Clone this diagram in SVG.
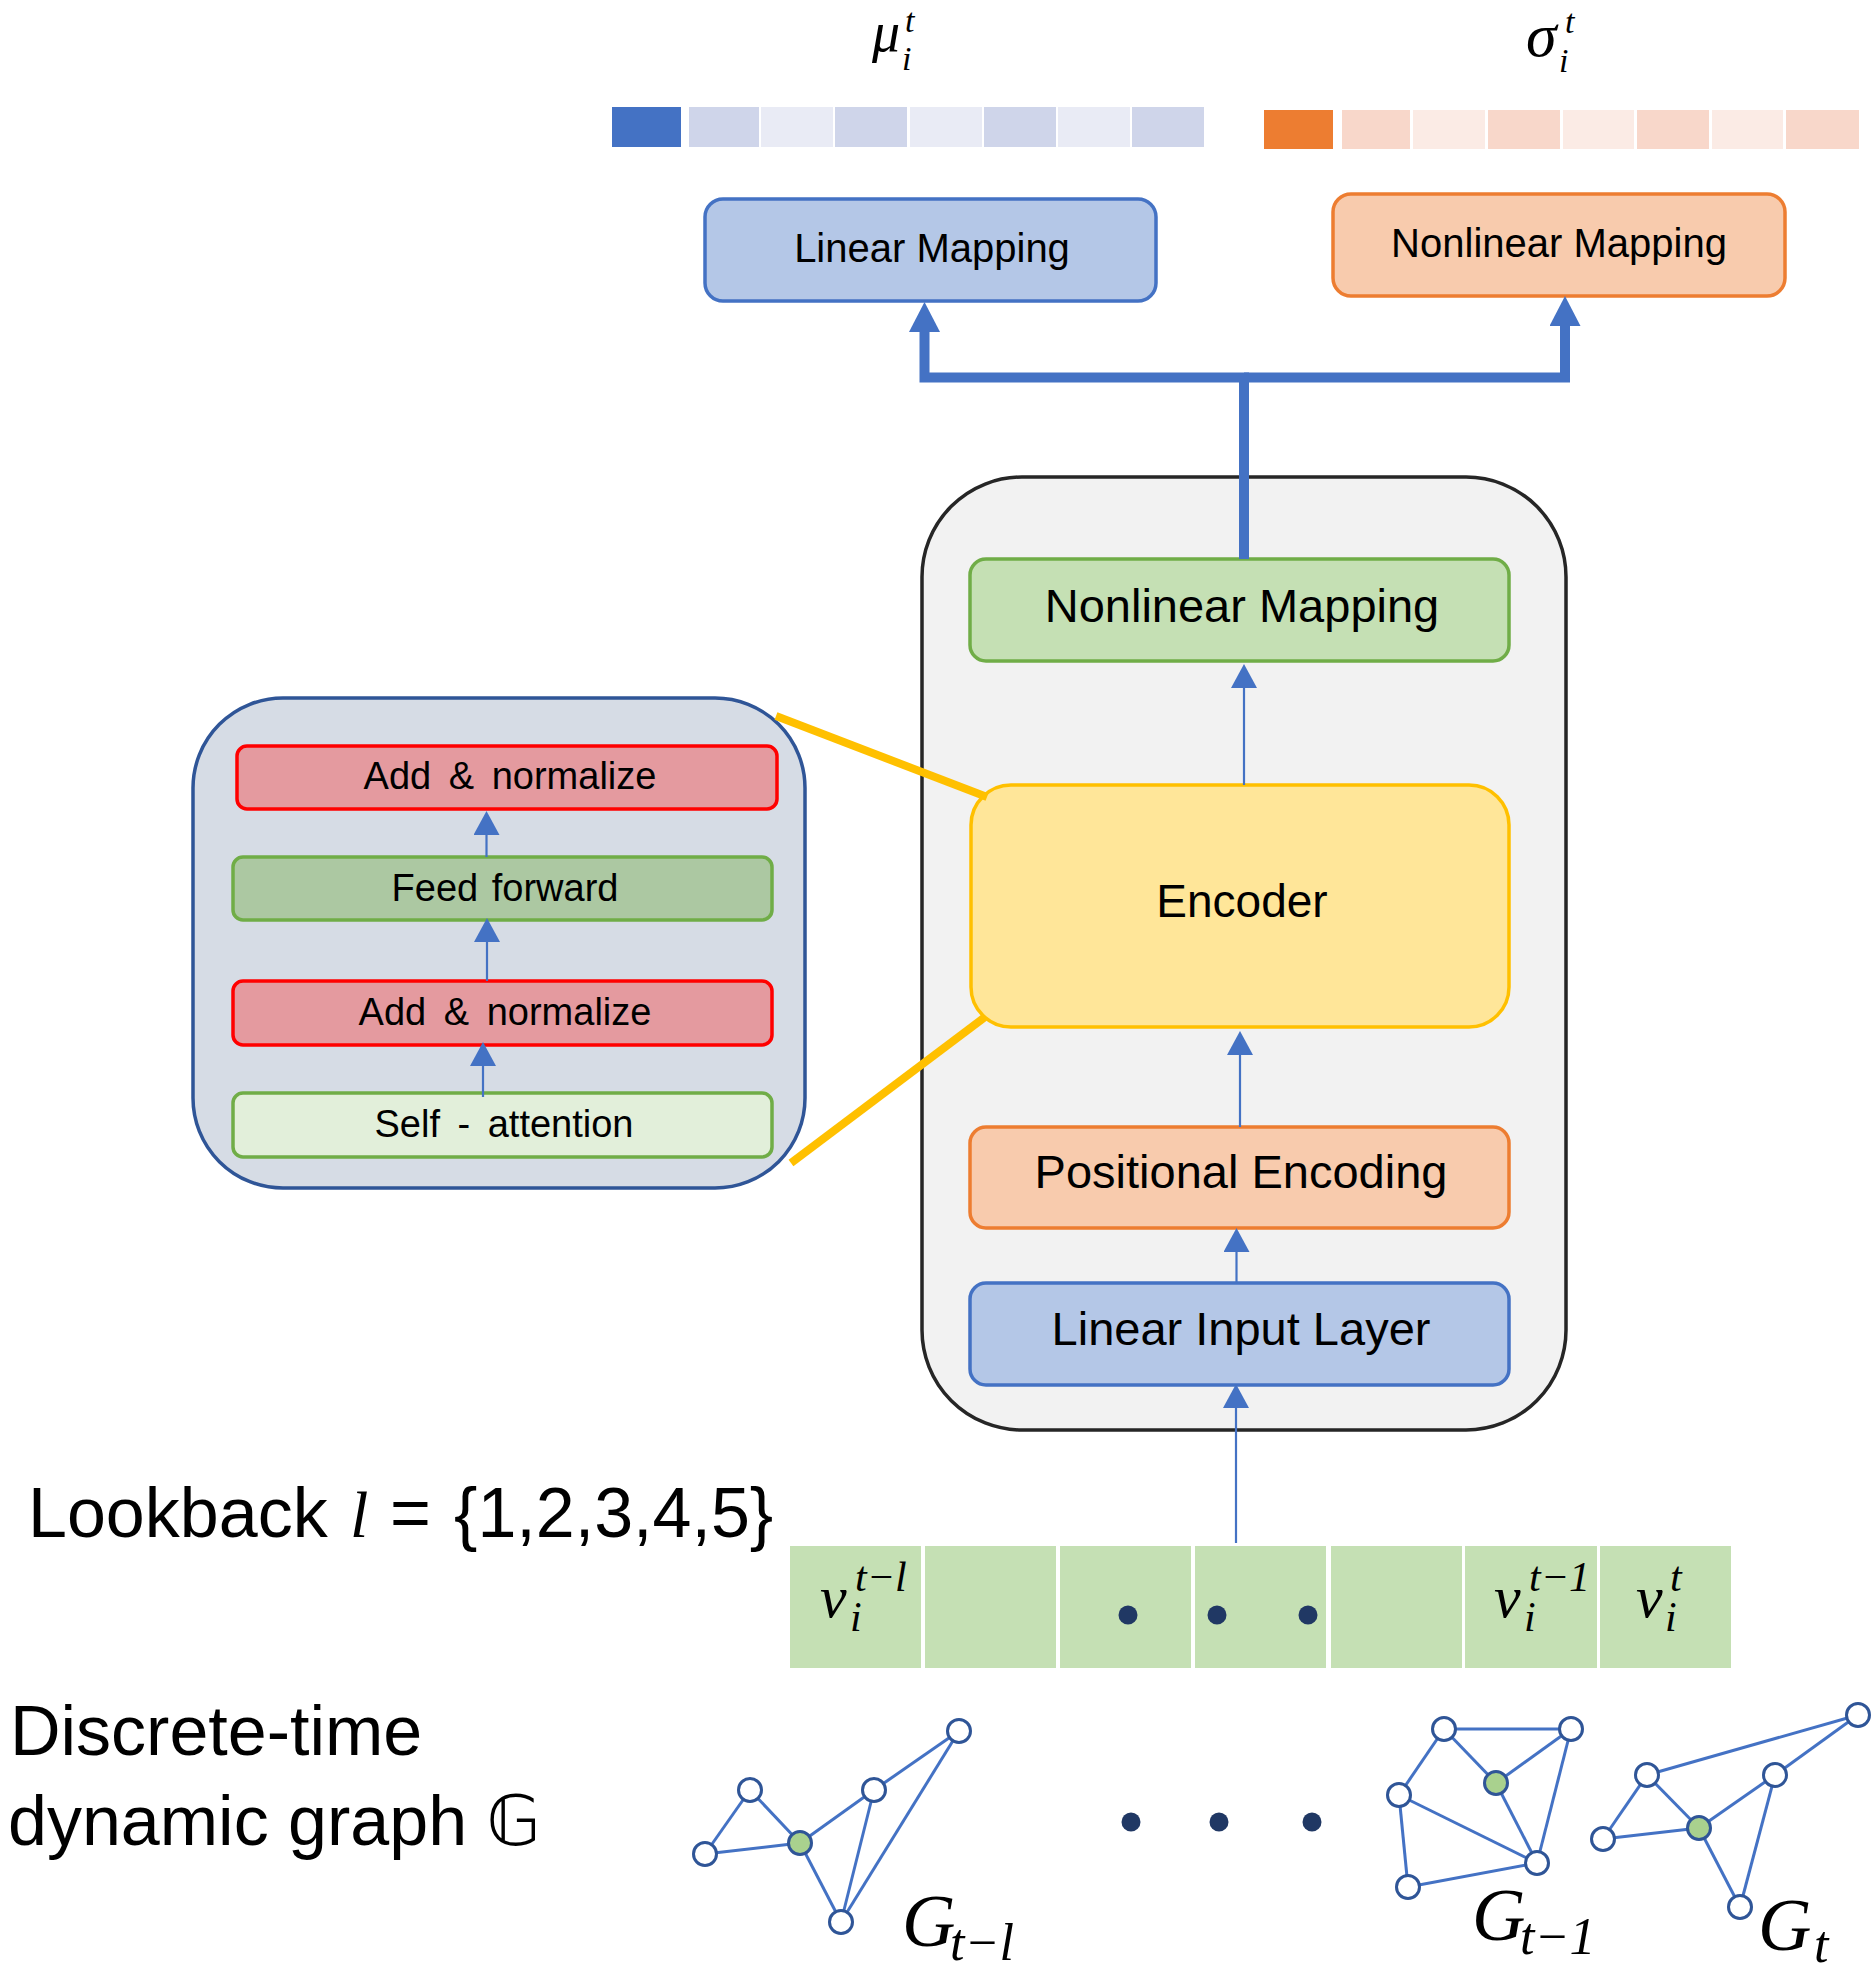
<svg xmlns="http://www.w3.org/2000/svg" width="1874" height="1977" viewBox="0 0 1874 1977">
<defs>
<style>
.sans{font-family:"Liberation Sans","DejaVu Sans",Arial,sans-serif;fill:#000}
.math{font-family:"Liberation Serif","DejaVu Serif","Times New Roman",serif;font-style:italic;fill:#000}
.mid{text-anchor:middle}
.ws{word-spacing:7px}
.thin{stroke:#4472C4;stroke-width:2.2;fill:none}
.thick{stroke:#4472C4;stroke-width:10;fill:none;stroke-linejoin:miter}
.yel{stroke:#FFC000;stroke-width:8;fill:none}
.edge{stroke:#4472C4;stroke-width:3}
.nd{fill:#fff;stroke:#2F5597;stroke-width:3}
.ndg{fill:#A9D18E;stroke:#2F5597;stroke-width:3}
.dot{fill:#203864}
.cell{fill:#C5E0B4}
</style>
<marker id="ah" viewBox="0 0 24 26" refX="0" refY="13" markerWidth="24" markerHeight="26" markerUnits="userSpaceOnUse" orient="auto">
<path d="M0,0 L24,13 L0,26 Z" fill="#4472C4"/>
</marker>
<marker id="ahT" viewBox="0 0 30 31" refX="0" refY="15.5" markerWidth="30" markerHeight="31" markerUnits="userSpaceOnUse" orient="auto">
<path d="M0,0 L30,15.5 L0,31 Z" fill="#4472C4"/>
</marker>
</defs>
<rect width="1874" height="1977" fill="#fff"/>

<!-- output vectors -->
<g id="mu-vector">
<rect x="612" y="107" width="69" height="40" fill="#4472C4"/>
<rect x="689" y="107" width="70" height="40" fill="#CFD5EA"/>
<rect x="761" y="107" width="72" height="40" fill="#E9EBF5"/>
<rect x="835" y="107" width="72" height="40" fill="#CFD5EA"/>
<rect x="910" y="107" width="72" height="40" fill="#E9EBF5"/>
<rect x="984" y="107" width="72" height="40" fill="#CFD5EA"/>
<rect x="1058" y="107" width="72" height="40" fill="#E9EBF5"/>
<rect x="1132" y="107" width="72" height="40" fill="#CFD5EA"/>
<text class="math" x="872" y="51" font-size="56">μ<tspan x="905" dy="-19" font-size="34">t</tspan><tspan x="902" dy="38" font-size="34">i</tspan></text>
</g>
<g id="sigma-vector">
<rect x="1264" y="110" width="69" height="39" fill="#ED7D31"/>
<rect x="1342" y="110" width="68" height="39" fill="#F8D7CA"/>
<rect x="1413" y="110" width="72" height="39" fill="#FBEBE5"/>
<rect x="1488" y="110" width="72" height="39" fill="#F8D7CA"/>
<rect x="1563" y="110" width="71" height="39" fill="#FBEBE5"/>
<rect x="1637" y="110" width="72" height="39" fill="#F8D7CA"/>
<rect x="1712" y="110" width="71" height="39" fill="#FBEBE5"/>
<rect x="1786" y="110" width="73" height="39" fill="#F8D7CA"/>
<text class="math" x="1526" y="56" font-size="62">σ<tspan x="1565" dy="-23" font-size="34">t</tspan><tspan x="1559" dy="39" font-size="34">i</tspan></text>
</g>

<g id="linear-mapping">
<rect x="705" y="199" width="451" height="102" rx="18" fill="#B4C7E7" stroke="#4472C4" stroke-width="3.5"/>
<text class="sans mid" x="932" y="262" font-size="40">Linear Mapping</text>
</g>
<g id="nonlinear-mapping-out">
<rect x="1333" y="194" width="452" height="102" rx="18" fill="#F8CBAD" stroke="#ED7D31" stroke-width="3.5"/>
<text class="sans mid" x="1559" y="257" font-size="40">Nonlinear Mapping</text>
</g>

<!-- main model container -->
<g id="model">
<rect x="922" y="477" width="644" height="953" rx="100" fill="#F2F2F2" stroke="#262626" stroke-width="3.5"/>
</g>
<g id="nonlinear-mapping">
<rect x="970" y="559" width="539" height="102" rx="16" fill="#C5E0B4" stroke="#70AD47" stroke-width="3.5"/>
<text class="sans mid" x="1242" y="622" font-size="47">Nonlinear Mapping</text>
</g>
<g id="encoder">
<rect x="971" y="785" width="538" height="242" rx="40" fill="#FFE699" stroke="#FFC000" stroke-width="3.5"/>
<text class="sans mid" x="1242" y="917" font-size="46">Encoder</text>
</g>
<g id="positional-encoding">
<rect x="970" y="1127" width="539" height="101" rx="16" fill="#F8CBAD" stroke="#ED7D31" stroke-width="3.5"/>
<text class="sans mid" x="1241" y="1188" font-size="47">Positional Encoding</text>
</g>
<g id="linear-input-layer">
<rect x="970" y="1283" width="539" height="102" rx="16" fill="#B4C7E7" stroke="#4472C4" stroke-width="3.5"/>
<text class="sans mid" x="1241" y="1345" font-size="47">Linear Input Layer</text>
</g>

<!-- encoder detail panel -->
<g id="encoder-detail">
<rect x="193" y="698" width="612" height="490" rx="90" fill="#D6DCE5" stroke="#2F5597" stroke-width="3.5"/>
</g>
<g id="add-norm-top">
<rect x="237" y="746" width="540" height="63" rx="10" fill="#E49A9F" stroke="#FF0000" stroke-width="3.5"/>
<text class="sans mid ws" x="510" y="789" font-size="38">Add &amp; normalize</text>
</g>
<g id="feed-forward">
<rect x="233" y="857" width="539" height="63" rx="10" fill="#ACC8A2" stroke="#70AD47" stroke-width="3.5"/>
<text class="sans mid" x="505" y="901" font-size="38" word-spacing="3">Feed forward</text>
</g>
<g id="add-norm-bottom">
<rect x="233" y="981" width="539" height="64" rx="10" fill="#E49A9F" stroke="#FF0000" stroke-width="3.5"/>
<text class="sans mid ws" x="505" y="1025" font-size="38">Add &amp; normalize</text>
</g>
<g id="self-attention">
<rect x="233" y="1093" width="539" height="64" rx="10" fill="#E2EFDA" stroke="#70AD47" stroke-width="3.5"/>
<text class="sans mid ws" x="504" y="1137" font-size="38">Self - attention</text>
</g>

<!-- input sequence -->
<g id="input-sequence">
<rect class="cell" x="790" y="1546" width="131" height="122"/>
<rect class="cell" x="925" y="1546" width="131" height="122"/>
<rect class="cell" x="1060" y="1546" width="131" height="122"/>
<rect class="cell" x="1195" y="1546" width="131" height="122"/>
<rect class="cell" x="1331" y="1546" width="131" height="122"/>
<rect class="cell" x="1465" y="1546" width="132" height="122"/>
<rect class="cell" x="1600" y="1546" width="131" height="122"/>
<text class="math" x="820" y="1617" font-size="60">v<tspan x="855" dy="-26" font-size="42">t−l</tspan><tspan x="850" dy="40" font-size="42">i</tspan></text>
<circle class="dot" cx="1128" cy="1615" r="9.5"/>
<circle class="dot" cx="1217" cy="1615" r="9.5"/>
<circle class="dot" cx="1308" cy="1615" r="9.5"/>
<text class="math" x="1494" y="1617" font-size="60">v<tspan x="1529" dy="-26" font-size="42">t−1</tspan><tspan x="1524" dy="40" font-size="42">i</tspan></text>
<text class="math" x="1636" y="1617" font-size="60">v<tspan x="1670" dy="-26" font-size="42">t</tspan><tspan x="1665" dy="40" font-size="42">i</tspan></text>
</g>

<g id="lookback-label">
<text class="sans" x="28" y="1537" font-size="70">Lookback<tspan class="math" x="350" font-size="66">l</tspan><tspan x="390">=</tspan><tspan x="454">{1,2,3,4,5}</tspan></text>
</g>
<g id="graph-label">
<text class="sans" x="10" y="1755" font-size="70">Discrete-time</text>
<text class="sans" x="8" y="1845" font-size="70">dynamic graph 𝔾</text>
</g>

<!-- graphs -->
<g id="graph-t-l">
<line class="edge" x1="705" y1="1854" x2="750" y2="1790"/>
<line class="edge" x1="750" y1="1790" x2="800" y2="1843"/>
<line class="edge" x1="705" y1="1854" x2="800" y2="1843"/>
<line class="edge" x1="800" y1="1843" x2="874" y2="1790"/>
<line class="edge" x1="874" y1="1790" x2="959" y2="1731"/>
<line class="edge" x1="800" y1="1843" x2="841" y2="1922"/>
<line class="edge" x1="874" y1="1790" x2="841" y2="1922"/>
<line class="edge" x1="959" y1="1731" x2="841" y2="1922"/>
<circle class="nd" cx="750" cy="1790" r="11.5"/>
<circle class="nd" cx="705" cy="1854" r="11.5"/>
<circle class="ndg" cx="800" cy="1843" r="11.5"/>
<circle class="nd" cx="874" cy="1790" r="11.5"/>
<circle class="nd" cx="959" cy="1731" r="11.5"/>
<circle class="nd" cx="841" cy="1922" r="11.5"/>
<text class="math" x="902" y="1946" font-size="74">G<tspan x="950" dy="14" font-size="52">t−l</tspan></text>
</g>
<g id="graph-dots">
<circle class="dot" cx="1131" cy="1822" r="9.5"/>
<circle class="dot" cx="1219" cy="1822" r="9.5"/>
<circle class="dot" cx="1312" cy="1822" r="9.5"/>
</g>
<g id="graph-t-1">
<line class="edge" x1="1444" y1="1729" x2="1571" y2="1729"/>
<line class="edge" x1="1444" y1="1729" x2="1496" y2="1783"/>
<line class="edge" x1="1496" y1="1783" x2="1571" y2="1729"/>
<line class="edge" x1="1444" y1="1729" x2="1399" y2="1795"/>
<line class="edge" x1="1399" y1="1795" x2="1537" y2="1863"/>
<line class="edge" x1="1399" y1="1795" x2="1408" y2="1887"/>
<line class="edge" x1="1496" y1="1783" x2="1537" y2="1863"/>
<line class="edge" x1="1571" y1="1729" x2="1537" y2="1863"/>
<line class="edge" x1="1408" y1="1887" x2="1537" y2="1863"/>
<circle class="nd" cx="1444" cy="1729" r="11.5"/>
<circle class="nd" cx="1571" cy="1729" r="11.5"/>
<circle class="ndg" cx="1496" cy="1783" r="11.5"/>
<circle class="nd" cx="1399" cy="1795" r="11.5"/>
<circle class="nd" cx="1537" cy="1863" r="11.5"/>
<circle class="nd" cx="1408" cy="1887" r="11.5"/>
<text class="math" x="1472" y="1940" font-size="74">G<tspan x="1520" dy="14" font-size="52">t−1</tspan></text>
</g>
<g id="graph-t">
<line class="edge" x1="1647" y1="1775" x2="1858" y2="1715"/>
<line class="edge" x1="1858" y1="1715" x2="1775" y2="1775"/>
<line class="edge" x1="1647" y1="1775" x2="1699" y2="1828"/>
<line class="edge" x1="1647" y1="1775" x2="1603" y2="1839"/>
<line class="edge" x1="1603" y1="1839" x2="1699" y2="1828"/>
<line class="edge" x1="1699" y1="1828" x2="1775" y2="1775"/>
<line class="edge" x1="1699" y1="1828" x2="1740" y2="1907"/>
<line class="edge" x1="1775" y1="1775" x2="1740" y2="1907"/>
<circle class="nd" cx="1647" cy="1775" r="11.5"/>
<circle class="nd" cx="1858" cy="1715" r="11.5"/>
<circle class="nd" cx="1775" cy="1775" r="11.5"/>
<circle class="ndg" cx="1699" cy="1828" r="11.5"/>
<circle class="nd" cx="1603" cy="1839" r="11.5"/>
<circle class="nd" cx="1740" cy="1907" r="11.5"/>
<text class="math" x="1758" y="1950" font-size="74">G<tspan x="1814" dy="12" font-size="52">t</tspan></text>
</g>

<!-- connectors -->
<g id="connectors">
<path class="thick" d="M1244,559 V377.5 H924.5 V332" marker-end="url(#ahT)"/>
<path class="thick" d="M1244,377.5 H1565 V326" marker-end="url(#ahT)"/>
<line class="thin" x1="1244" y1="785" x2="1244" y2="688" marker-end="url(#ah)"/>
<line class="thin" x1="1240" y1="1127" x2="1240" y2="1055" marker-end="url(#ah)"/>
<line class="thin" x1="1236.5" y1="1283" x2="1236.5" y2="1252" marker-end="url(#ah)"/>
<line class="thin" x1="1236" y1="1543" x2="1236" y2="1408" marker-end="url(#ah)"/>
<line class="thin" x1="486.5" y1="857" x2="486.5" y2="835" marker-end="url(#ah)"/>
<line class="thin" x1="487" y1="981" x2="487" y2="942" marker-end="url(#ah)"/>
<line class="thin" x1="483" y1="1097" x2="483" y2="1066" marker-end="url(#ah)"/>
<line class="yel" x1="776" y1="716" x2="987" y2="797"/>
<line class="yel" x1="791" y1="1163" x2="985" y2="1017"/>
</g>
</svg>
